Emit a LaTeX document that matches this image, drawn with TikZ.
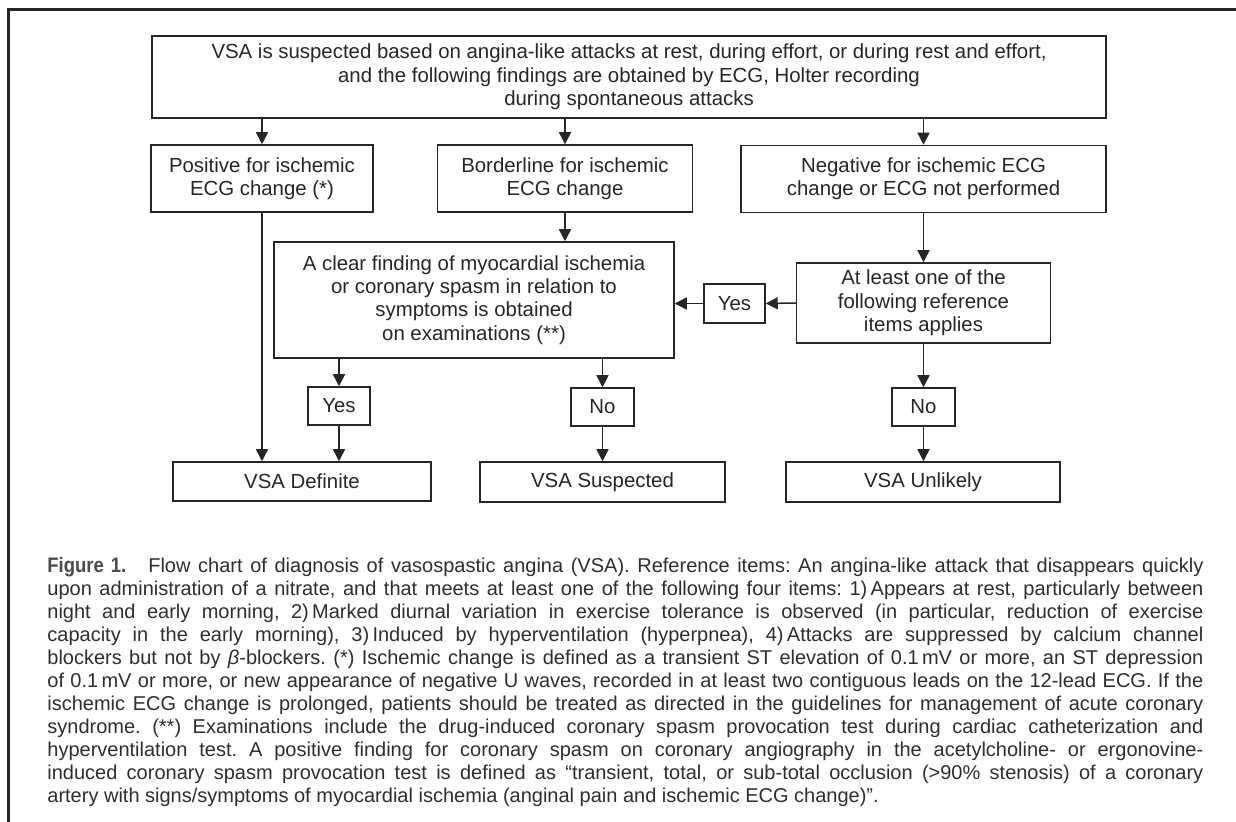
\documentclass[tikz,border=0pt]{standalone}
\usepackage{fontspec}
\setmainfont{Liberation Sans}
\newfontfamily\figfont[FakeStretch=0.88]{Liberation Sans}
\usetikzlibrary{arrows.meta}
\definecolor{ink}{HTML}{262626}
\definecolor{capink}{HTML}{2E2E2E}
\definecolor{figgray}{HTML}{4A4A4A}
\begin{document}
\begin{tikzpicture}[x=0.5pt,y=-0.5pt,
  box/.style={draw=ink, line width=0.75pt, text=ink, inner sep=0pt, align=center,
    font=\fontsize{10.2}{11.7}\selectfont},
  arr/.style={draw=ink, line width=0.75pt, -{Triangle[width=6pt,length=6pt]}}
]
\useasboundingbox (0,0) rectangle (1236,822);
\fill[white] (0,0) rectangle (1236,822);
\draw[ink, line width=1.5pt] (8,822) -- (8,10) -- (1236,10);

\node[box, minimum width=477pt, minimum height=41pt] (top) at (629,77)
  {VSA is suspected based on angina-like attacks at rest, during effort, or during rest and effort,\\
   and the following findings are obtained by ECG, Holter recording\\
   during spontaneous attacks};
\node[box, minimum width=111pt, minimum height=33.5pt] (pos) at (262,178.5)
  {Positive for ischemic\\ECG change (*)};
\node[box, minimum width=127.5pt, minimum height=33.5pt] (bord) at (565,178.5)
  {Borderline for ischemic\\ECG change};
\node[box, minimum width=182.5pt, minimum height=33.5pt] (neg) at (923.5,179)
  {Negative for ischemic ECG\\change or ECG not performed};
\node[box, minimum width=200pt, minimum height=58pt] (clear) at (474,300)
  {A clear finding of myocardial ischemia\\or coronary spasm in relation to\\symptoms is obtained\\on examinations (**)};
\node[box, minimum width=127pt, minimum height=40pt] (atl) at (923.5,303)
  {At least one of the\\following reference\\items applies};
\node[box, minimum width=30.5pt, minimum height=19.5pt] (yes1) at (734.5,303.5) {Yes};
\node[box, minimum width=31pt, minimum height=19pt] (yes2) at (339,406) {Yes};
\node[box, minimum width=31.5pt, minimum height=19pt] (no1) at (602.5,407) {No};
\node[box, minimum width=31.5pt, minimum height=19pt] (no2) at (923.5,407) {No};
\node[box, minimum width=129pt, minimum height=19.5pt] (def) at (302,481.5) {VSA Definite};
\node[box, minimum width=122.5pt, minimum height=20pt] (sus) at (602.5,482) {VSA Suspected};
\node[box, minimum width=137pt, minimum height=20pt] (unl) at (923,482) {VSA Unlikely};

\draw[arr] (top.south -| pos.north) -- (pos.north);
\draw[arr] (top.south -| bord.north) -- (bord.north);
\draw[arr] (top.south -| neg.north) -- (neg.north);
\draw[arr] (bord.south) -- (bord.south |- clear.north);
\draw[arr] (neg.south) -- (atl.north);
\draw[arr] (atl.west) -- (yes1.east);
\draw[arr] (yes1.west) -- (yes1.west -| clear.east);
\draw[arr] (clear.south -| yes2.north) -- (yes2.north);
\draw[arr] (yes2.south) -- (yes2.south |- def.north);
\draw[arr] (pos.south) -- (pos.south |- def.north);
\draw[arr] (clear.south -| no1.north) -- (no1.north);
\draw[arr] (no1.south) -- (no1.south |- sus.north);
\draw[arr] (atl.south) -- (no2.north);
\draw[arr] (no2.south) -- (no2.south |- unl.north);

\node[anchor=base west, inner sep=0pt, text=capink] (cap) at (47,573) {\parbox[t]{578pt}{\fontsize{10}{11.5}\selectfont\frenchspacing
\hbox to 578pt{{\figfont\fontsize{10.5}{11.5}\selectfont\bfseries\color{figgray}Figure 1.}\hspace{11pt}Flow chart of diagnosis of vasospastic angina (VSA). Reference items: An angina-like attack that disappears quickly}
\hbox to 578pt{upon administration of a nitrate, and that meets at least one of the following four items: 1)\,Appears at rest, particularly between}
\hbox to 578pt{night and early morning, 2)\,Marked diurnal variation in exercise tolerance is observed (in particular, reduction of exercise}
\hbox to 578pt{capacity in the early morning), 3)\,Induced by hyperventilation (hyperpnea), 4)\,Attacks are suppressed by calcium channel}
\hbox to 578pt{blockers but not by \textit{β}-blockers. (*) Ischemic change is defined as a transient ST elevation of 0.1\,mV or more, an ST depression}
\hbox to 578pt{of 0.1\,mV or more, or new appearance of negative U waves, recorded in at least two contiguous leads on the 12-lead ECG. If the}
\hbox to 578pt{ischemic ECG change is prolonged, patients should be treated as directed in the guidelines for management of acute coronary}
\hbox to 578pt{syndrome. (**) Examinations include the drug-induced coronary spasm provocation test during cardiac catheterization and}
\hbox to 578pt{hyperventilation test. A positive finding for coronary spasm on coronary angiography in the acetylcholine- or ergonovine-}
\hbox to 578pt{induced coronary spasm provocation test is defined as “transient, total, or sub-total occlusion (>90\% stenosis) of a coronary}
\hbox{artery with signs/symptoms of myocardial ischemia (anginal pain and ischemic ECG change)”.}
}};
\end{tikzpicture}
\end{document}
